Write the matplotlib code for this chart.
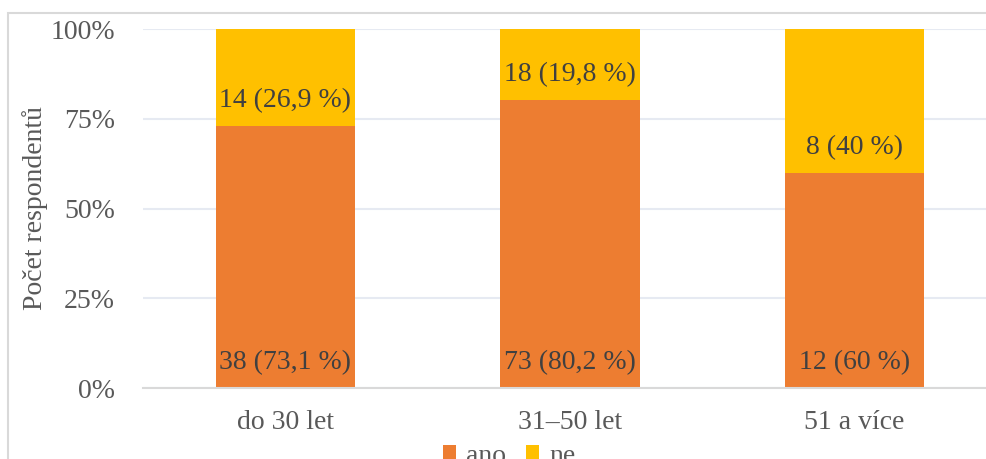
import matplotlib.pyplot as plt
from matplotlib.patches import Rectangle
import numpy as np

categories = ['do 30 let', '31–50 let', '51 a více']
ano = [38, 73, 12]
ne = [14, 18, 8]
series_names = ['ano', 'ne']


def fmt_label(count, share):
    # český formát: desetinná čárka, bez ",0"
    txt = f'{share:.1f}'.replace('.', ',')
    if txt.endswith(',0'):
        txt = txt[:-2]
    return f'{count} ({txt} %)'


plt.rcParams['font.family'] = ['Liberation Serif', 'DejaVu Serif']
W, H = 986, 459
fig = plt.figure(figsize=(W / 100, H / 100), dpi=100)
ax = fig.add_axes([143 / W, 71 / H, (997 - 143) / W, (388 - 29) / H])

ano_arr = np.array(ano, dtype=float)
ne_arr = np.array(ne, dtype=float)
total = ano_arr + ne_arr
ano_pct = ano_arr / total * 100
ne_pct = ne_arr / total * 100

x = np.arange(len(categories))
ax.bar(x, ano_pct, width=0.49, color='#ED7D31', label=series_names[0], zorder=2)
ax.bar(x, ne_pct, width=0.49, bottom=ano_pct, color='#FFC000', label=series_names[1], zorder=2)

# popisky u spodní hrany segmentů
for i in range(len(categories)):
    ax.annotate(fmt_label(ano[i], ano_pct[i]), (x[i], 0), xytext=(0, 9),
                textcoords='offset points', ha='center', va='bottom',
                fontsize=20, color='#404040', zorder=3)
    ax.annotate(fmt_label(ne[i], ne_pct[i]), (x[i], ano_pct[i]), xytext=(0, 9),
                textcoords='offset points', ha='center', va='bottom',
                fontsize=20, color='#404040', zorder=3)

ax.set_xlim(-0.5, 2.5)
ax.set_ylim(0, 100)
ax.set_yticks([0, 25, 50, 75, 100])
ax.set_yticklabels(['0%', '25%', '50%', '75%', '100%'])
ax.set_xticks(x)
ax.set_xticklabels(categories)
ax.tick_params(axis='y', length=0, pad=20, labelsize=20, labelcolor='#595959')
ax.tick_params(axis='x', length=0, pad=16, labelsize=20, labelcolor='#595959')

ax.yaxis.grid(True, color='#E6EAF2', linewidth=1.5, zorder=0)
ax.set_axisbelow(True)
for s in ['top', 'right', 'left']:
    ax.spines[s].set_visible(False)
ax.spines['bottom'].set_color('#D9D9D9')
ax.spines['bottom'].set_linewidth(1.5)

fig.text(35 / W, 1 - 208 / H, 'Počet respondentů', rotation=90, ha='center', va='center',
         fontsize=20, color='#595959')

fig.legend(loc='upper center', bbox_to_anchor=(509 / W, 1 - 430 / H), ncol=2, frameon=False,
           fontsize=20, handlelength=0.5, handleheight=0.5, handletextpad=0.35,
           columnspacing=0.7, labelcolor='#595959', borderpad=0)

# rámeček grafu (oříznutý vpravo a dole)
fig.patches.append(Rectangle((8 / W, -0.1), 1.2, 1.1 - 13 / H, transform=fig.transFigure,
                             fill=False, edgecolor='#D9D9D9', linewidth=1.5))

plt.savefig('out.png', dpi=100)
plt.close()
